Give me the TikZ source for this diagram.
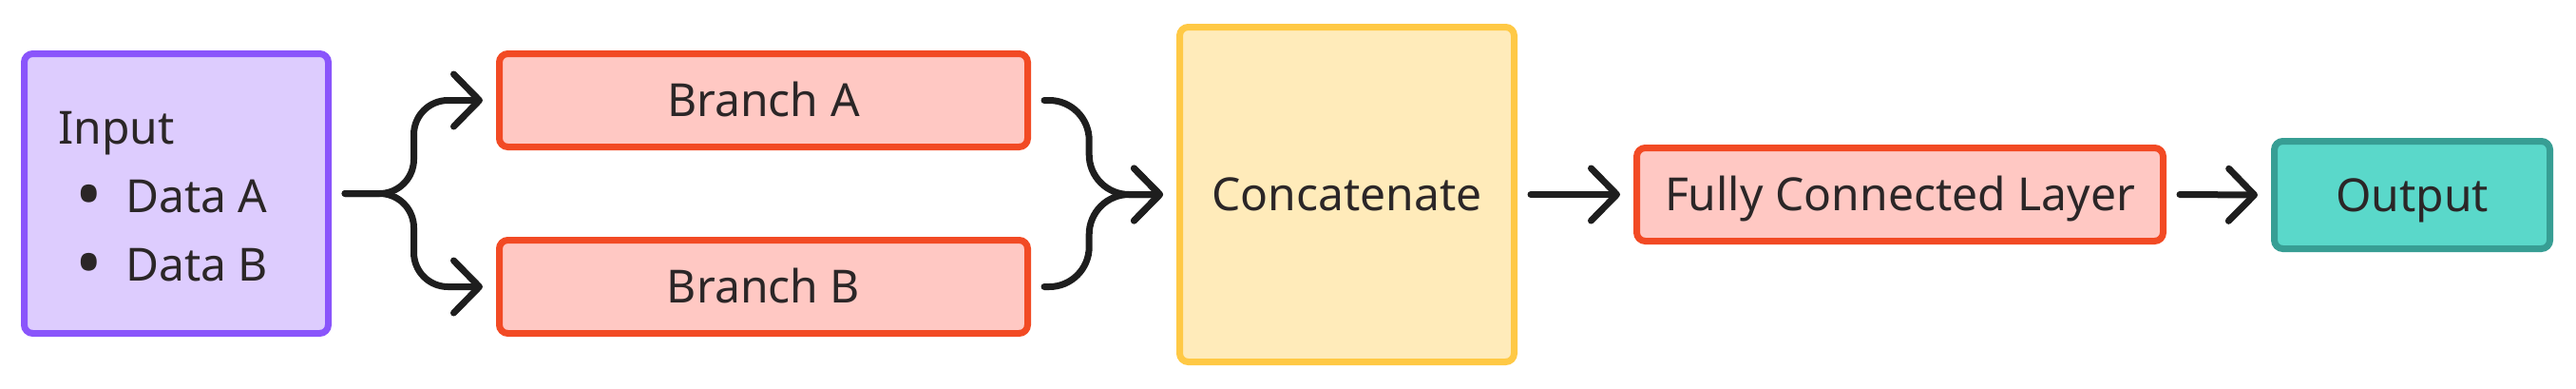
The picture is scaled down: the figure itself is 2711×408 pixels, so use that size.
\documentclass[tikz,border=0pt]{standalone}
\usepackage{fontspec}
\setmainfont{Noto Sans}
\usetikzlibrary{arrows.meta,calc}
\definecolor{txt}{HTML}{2B2627}
\definecolor{arrowc}{HTML}{1E1E1E}
\definecolor{inF}{HTML}{DDCCFE}
\definecolor{inB}{HTML}{8A55FB}
\definecolor{rdF}{HTML}{FFC8C3}
\definecolor{rdB}{HTML}{F24A24}
\definecolor{ylF}{HTML}{FFEBBA}
\definecolor{ylB}{HTML}{FFC945}
\definecolor{tlF}{HTML}{5AD8CA}
\definecolor{tlB}{HTML}{379E94}
\tikzset{
  box/.style={draw, line width=7pt, rounded corners=9pt, inner sep=0pt,
    font=\fontsize{48}{58}\selectfont, text=txt, text height=34pt, text depth=0pt},
  lbl/.style={inner sep=0pt, font=\fontsize{48}{58}\selectfont, text=txt},
  bul/.style={inner sep=0pt, font=\fontsize{76}{80}\selectfont, text=txt},
  arr/.style={draw=arrowc, line width=7pt, line cap=round, line join=round,
    -{Straight Barb[length=27pt,width=55pt,round]}},
}
\begin{document}
\begin{tikzpicture}[x=1pt,y=-1pt]
\useasboundingbox (0,0) rectangle (2711,408);
\node[box, draw=inB, fill=inF, minimum width=320pt, minimum height=294pt] (in) at (185.5,203.5) {};
\node[lbl, anchor=base west] (tin) at (61,151) {Input};
\node[bul, anchor=base] (b1) at (94,231) {•};
\node[lbl, anchor=base west] (da) at (132,223) {Data A};
\node[bul, anchor=base] (b2) at (94,303) {•};
\node[lbl, anchor=base west] (db) at (132,295) {Data B};
\node[box, draw=rdB, fill=rdF, minimum width=556pt, minimum height=98pt] (ba) at (803.5,105.5) {Branch A};
\node[box, draw=rdB, fill=rdF, minimum width=556pt, minimum height=98pt] (bb) at (803.5,301.5) {Branch B};
\node[box, draw=ylB, fill=ylF, minimum width=352pt, minimum height=352pt] (cc) at (1417.5,204.5) {Concatenate};
\node[box, draw=rdB, fill=rdF, minimum width=554pt, minimum height=98pt] (fc) at (1999.5,204.5) {Fully Connected Layer};
\node[box, draw=tlB, fill=tlF, minimum width=290pt, minimum height=113pt] (out) at (2538.5,205) {Output};
\coordinate (m1) at ($(in.east)!.5!(ba.west)$);
\coordinate (m2) at ($(ba.east)!.4!(cc.west)$);
\draw[arr, rounded corners=36pt] ([xshift=14pt]in.east) -| (m1 |- ba.west) -- ([xshift=-14pt]ba.west);
\draw[arr, rounded corners=36pt] ([xshift=14pt]in.east) -| (m1 |- bb.west) -- ([xshift=-14pt]bb.west);
\draw[arr, rounded corners=42pt] ([xshift=14pt]ba.east) -| (m2 |- cc.west) -- ([xshift=-14pt]cc.west);
\draw[arr, rounded corners=42pt] ([xshift=14pt]bb.east) -| (m2 |- cc.west) -- ([xshift=-14pt]cc.west);
\draw[arr] ([xshift=14pt]cc.east) -- ([xshift=-14pt]fc.west);
\draw[arr] ([xshift=14pt]fc.east) -- ([xshift=-14pt]out.west);
\end{tikzpicture}
\end{document}
